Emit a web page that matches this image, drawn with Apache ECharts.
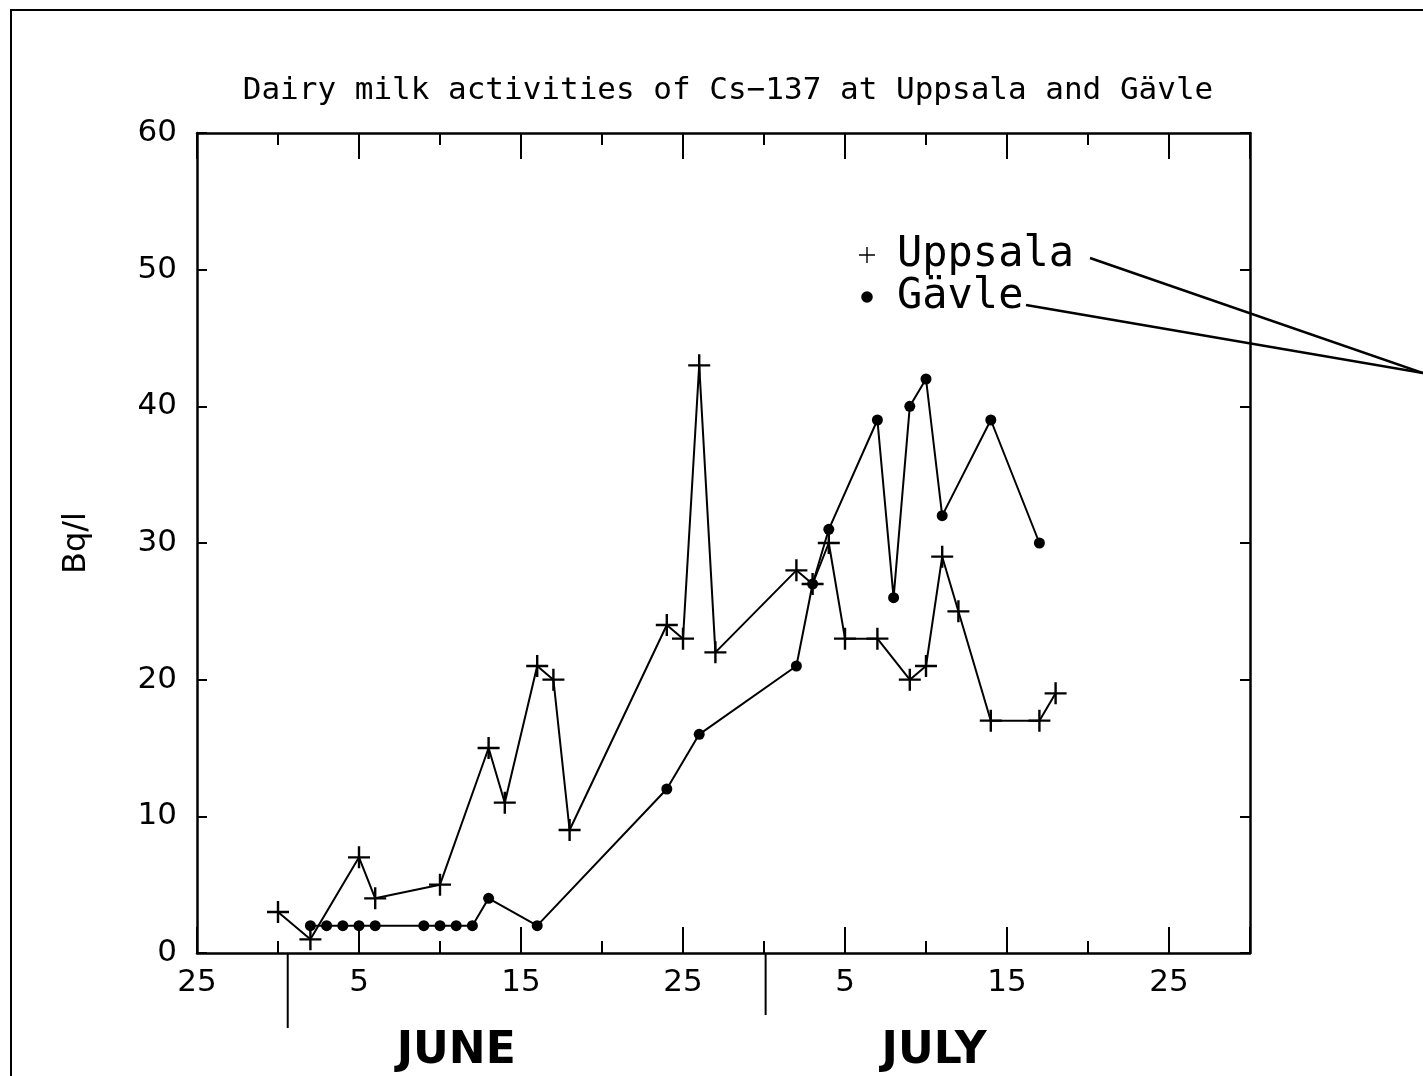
<!DOCTYPE html>
<html><head><meta charset="utf-8">
<script src="https://cdn.jsdelivr.net/npm/echarts@6/dist/echarts.min.js"></script>
<style>html,body{margin:0;padding:0;background:#fff}#c{width:1423px;height:1076px}</style>
</head><body><div id="c"></div>
<script>
// x = day index on the chart's axis (0 = 25 May, June d -> d+5, July d -> d+35)
const uppsalaDays = [5,7,10,11,15,18,19,21,22,23,29,30,31,32,37,38,39,40,42,44,45,46,47,49,52,53];
const uppsalaBq   = [3,1,7,4,5,15,11,21,20,9,24,23,43,22,28,27,30,23,23,20,21,29,25,17,17,19];
const gavleDays   = [7,8,9,10,11,14,15,16,17,18,21,29,31,37,38,39,42,43,44,45,46,49,52];
const gavleBq     = [2,2,2,2,2,2,2,2,2,4,2,12,16,21,27,31,39,26,40,42,32,39,30];
const xTickValues = [0,10,20,30,40,50,60];
const xTickLabels = ['25','5','15','25','5','15','25'];
const monthNames  = ['JUNE','JULY'];
const monthCenters = [16, 45.5];
const monthBreaks = [5.6, 35.1];
const titleText = 'Dairy milk activities of Cs\u2212137 at Uppsala and Gävle';
const yName = 'Bq/l';

const crossPath = 'path://M-1.2,-11h2.4v22h-2.4z M-11,-1.2h22v2.4h-22z';
const legendCross = 'path://M-0.8,-9h1.6v18h-1.6z M-9,-0.8h18v1.6h-18z';
const legendDot = 'path://M-9,-9L-8.99,-9Z M9,9L8.99,9Z M0,-6.5A6.5,6.5,0,1,1,0,6.5A6.5,6.5,0,1,1,0,-6.5Z';
const FONT = 'DejaVu Sans';
const MONO = 'DejaVu Sans Mono';
const pairs = (xs, ys) => xs.map((x, i) => [x, ys[i]]);

const chart = echarts.init(document.getElementById('c'), null, {renderer: 'canvas'});
const gridRect = {left: 197, right: 173, top: 133, bottom: 123};
const baseX = {type: 'value', min: 0, max: 65, splitLine: {show: false}};
const axLine = () => ({show: true, onZero: false, lineStyle: {color: '#000', width: 2.5}});
const option = {
  animation: false,
  backgroundColor: '#fff',
  textStyle: {fontFamily: FONT, color: '#000'},
  title: {
    text: titleText, left: 723, textAlign: 'center', top: 70,
    textStyle: {fontFamily: MONO, fontSize: 31, fontWeight: 'normal', color: '#000'}
  },
  legend: {
    orient: 'vertical', left: 854, top: 229, itemWidth: 50, itemHeight: 16, itemGap: 0,
    textStyle: {fontFamily: MONO, fontSize: 42, color: '#000', lineHeight: 37},
    data: [{name: 'Uppsala', icon: legendCross}, {name: 'Gävle', icon: legendDot}]
  },
  grid: [Object.assign({}, gridRect), Object.assign({}, gridRect)],
  xAxis: [
    Object.assign({}, baseX, {gridIndex: 0, position: 'bottom', interval: 5,
      axisLine: axLine(),
      axisTick: {show: true, inside: true, length: 12, lineStyle: {color: '#000', width: 2}},
      axisLabel: {show: true, margin: 14, fontFamily: FONT, fontSize: 31, color: '#000',
        formatter: v => { const i = xTickValues.indexOf(v); return i >= 0 ? xTickLabels[i] : ''; }}}),
    Object.assign({}, baseX, {gridIndex: 0, position: 'top', interval: 5,
      axisLine: axLine(),
      axisTick: {show: true, inside: true, length: 12, lineStyle: {color: '#000', width: 2}},
      axisLabel: {show: false}}),
    Object.assign({}, baseX, {gridIndex: 1, position: 'bottom', interval: 10,
      axisLine: {show: false, onZero: false},
      axisTick: {show: true, inside: true, length: 26, lineStyle: {color: '#000', width: 2}},
      axisLabel: {show: false}}),
    Object.assign({}, baseX, {gridIndex: 1, position: 'top', interval: 10,
      axisLine: {show: false, onZero: false},
      axisTick: {show: true, inside: true, length: 26, lineStyle: {color: '#000', width: 2}},
      axisLabel: {show: false}})
  ],
  yAxis: [
    {type: 'value', gridIndex: 0, position: 'left', min: 0, max: 60, interval: 10,
      name: yName, nameLocation: 'middle', nameGap: 104, nameRotate: 90,
      nameTextStyle: {fontFamily: FONT, fontSize: 32, color: '#000'},
      axisLine: axLine(),
      axisTick: {show: true, inside: true, length: 10, lineStyle: {color: '#000', width: 2}},
      axisLabel: {margin: 20, fontFamily: FONT, fontSize: 31, color: '#000'},
      splitLine: {show: false}},
    {type: 'value', gridIndex: 0, position: 'right', min: 0, max: 60, interval: 10,
      axisLine: axLine(),
      axisTick: {show: true, inside: true, length: 10, lineStyle: {color: '#000', width: 2}},
      axisLabel: {show: false}, splitLine: {show: false}},
    {type: 'value', gridIndex: 1, min: 0, max: 60, show: false}
  ],
  series: [
    {name: 'Uppsala', type: 'line', xAxisIndex: 0, yAxisIndex: 0,
      data: pairs(uppsalaDays, uppsalaBq), symbol: crossPath, symbolSize: 22,
      lineStyle: {color: '#000', width: 2}, itemStyle: {color: '#000'}},
    {name: 'Gävle', type: 'line', xAxisIndex: 0, yAxisIndex: 0,
      data: pairs(gavleDays, gavleBq), symbol: 'circle', symbolSize: 11,
      lineStyle: {color: '#000', width: 2}, itemStyle: {color: '#000'}}
  ]
};
chart.setOption(option);

const px = v => chart.convertToPixel({xAxisIndex: 0}, v);
const y0 = chart.convertToPixel({yAxisIndex: 0}, 0);
const graphics = [
  {type: 'rect', shape: {x: 11, y: 10, width: 1500, height: 1200}, silent: true,
    style: {fill: null, stroke: '#000', lineWidth: 2}},
  {type: 'line', shape: {x1: 1090, y1: 258, x2: 1423, y2: 373}, style: {stroke: '#000', lineWidth: 2.5}},
  {type: 'line', shape: {x1: 1026, y1: 305, x2: 1423, y2: 373}, style: {stroke: '#000', lineWidth: 2.5}}
];
monthBreaks.forEach((v, i) => {
  graphics.push({type: 'line', shape: {x1: px(v), y1: y0, x2: px(v), y2: y0 + (i === 0 ? 75 : 62)},
    style: {stroke: '#000', lineWidth: 2}});
});
monthNames.forEach((n, i) => {
  graphics.push({type: 'text', x: px(monthCenters[i]), y: 1052,
    style: {text: n, fontFamily: FONT, fontSize: 44, fontWeight: 'bold', fill: '#000',
      align: 'center', verticalAlign: 'middle'}});
});
chart.setOption({graphic: graphics});
</script></body></html>
